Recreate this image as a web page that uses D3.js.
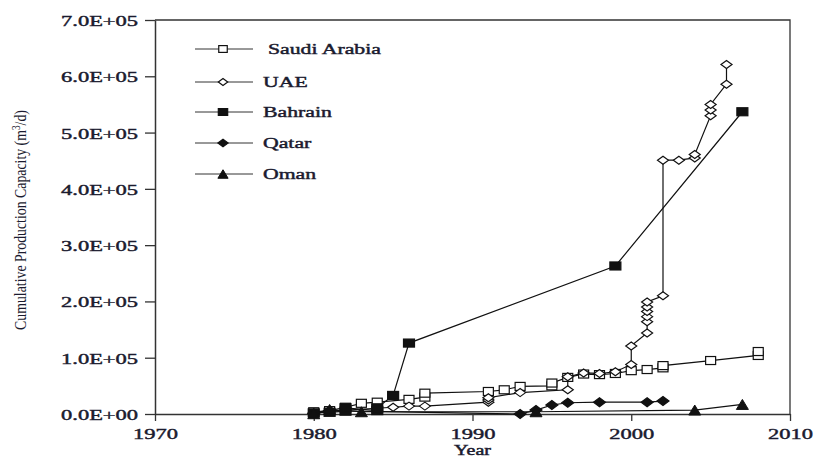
<!DOCTYPE html>
<html>
<head>
<meta charset="utf-8">
<script src="https://cdn.jsdelivr.net/npm/d3@7"></script>
<style>
  html, body { margin: 0; padding: 0; background: #fff; }
  svg { display: block; }
  text { font-family: "Liberation Serif", "Times New Roman", serif; fill: #1b1b2f; }
</style>
</head>
<body>
<svg id="chart" width="814" height="458"></svg>
<script>
// Cumulative desalination production capacity (m3/d) by year of commissioning
const saudiArabia = [
  [1980, 4000], [1981, 6000], [1982, 12000], [1983, 19000], [1984, 21000],
  [1986, 26000], [1987, 30000], [1987, 37000], [1991, 40000], [1992, 43000],
  [1993, 49000], [1995, 50000], [1995, 55000], [1996, 65000], [1997, 71000],
  [1998, 70000], [1999, 72000], [2000, 77000], [2001, 79000], [2002, 82000],
  [2002, 86000], [2005, 95000], [2008, 104000], [2008, 111000]
];
const uae = [
  [1980, 2000], [1981, 5000], [1985, 12000], [1986, 14000], [1987, 14000],
  [1991, 21000], [1991, 25000], [1991, 29000], [1993, 38000], [1996, 43000],
  [1996, 66000], [1997, 73000], [1998, 72000], [1999, 75000], [2000, 88000],
  [2000, 121000], [2001, 144000], [2001, 164000], [2001, 173000], [2001, 182000],
  [2001, 190000], [2001, 199000], [2002, 210000], [2002, 451000], [2003, 451000],
  [2004, 455000], [2004, 461000], [2005, 530000], [2005, 540000], [2005, 550000],
  [2006, 586000], [2006, 621000]
];
const bahrain = [
  [1980, 2000], [1981, 3000], [1982, 5000], [1982, 11000], [1984, 6000],
  [1984, 11000], [1985, 33000], [1986, 126000], [1999, 263000], [2007, 537000]
];
const qatar = [
  [1980, 1000], [1981, 6000], [1993, 0], [1994, 7000], [1995, 16000],
  [1996, 20000], [1998, 21000], [2001, 21000], [2002, 23000]
];
const oman = [
  [1980, 500], [1981, 8000], [1983, 4000], [1994, 4000], [2004, 7000], [2007, 17000]
];

const seriesNames = ["Saudi Arabia", "UAE", "Bahrain", "Qatar", "Oman"];
const seriesData = [saudiArabia, uae, bahrain, qatar, oman];
const seriesMarkers = ["openSquare", "openDiamond", "filledSquare", "filledDiamond", "filledTriangle"];

const xTicks = [1970, 1980, 1990, 2000, 2010];
const yTicks = [0, 100000, 200000, 300000, 400000, 500000, 600000, 700000];
const yTickLabels = ["0.0E+00", "1.0E+05", "2.0E+05", "3.0E+05", "4.0E+05", "5.0E+05", "6.0E+05", "7.0E+05"];

const svg = d3.select("#chart");
const plotLeft = 155, plotRight = 790, plotTop = 20, plotBottom = 414;
const stretch = 1.45; // horizontal stretch of the typeface
const ink = "#1b1b2f";

const x = d3.scaleLinear().domain([1970, 2010]).range([plotLeft, plotRight]);
const y = d3.scaleLinear().domain([0, 700000]).range([plotBottom, plotTop]);

function heavyText(sel, size) {
  sel.style("font-family", "Liberation Serif, serif")
    .style("font-size", size + "px").style("font-weight", "normal")
    .style("fill", ink).style("stroke", ink).style("stroke-width", 0.45);
}

// frame: top and right edges
svg.append("path")
  .attr("d", `M${plotLeft},${plotTop}H${plotRight}V${plotBottom}`)
  .attr("fill", "none").attr("stroke", "#333").attr("stroke-width", 1.3);

// x axis
const gx = svg.append("g").attr("transform", `translate(0,${plotBottom})`)
  .call(d3.axisBottom(x).tickValues(xTicks).tickFormat(d3.format("d")).tickSize(7).tickSizeOuter(0));
gx.select(".domain").attr("stroke", "#333").attr("stroke-width", 1.5);
gx.selectAll(".tick line").attr("stroke", "#333").attr("stroke-width", 1.3);
gx.selectAll(".tick text")
  .attr("y", 25.5).attr("dy", 0).attr("x", 0)
  .attr("transform", `scale(${stretch},1)`)
  .call(heavyText, 15.5);

// y axis
const gy = svg.append("g").attr("transform", `translate(${plotLeft},0)`)
  .call(d3.axisLeft(y).tickValues(yTicks).tickFormat((d, i) => yTickLabels[i]).tickSize(10).tickSizeOuter(0));
gy.select(".domain").attr("stroke", "#333").attr("stroke-width", 1.5);
gy.selectAll(".tick line").attr("stroke", "#333").attr("stroke-width", 1.3);
gy.selectAll(".tick text")
  .attr("x", -17 / stretch).attr("dy", "0.35em")
  .attr("transform", `scale(${stretch},1)`)
  .call(heavyText, 15.5);

// axis titles
svg.append("text")
  .attr("transform", `translate(${x(1990)},454.8) scale(${stretch},1)`)
  .attr("text-anchor", "middle")
  .call(heavyText, 13.8)
  .text("Year");

const yTitle = svg.append("text")
  .attr("text-anchor", "middle")
  .style("font-size", "12px").style("fill", ink);
yTitle.append("tspan").text("Cumulative Production Capacity (m");
yTitle.append("tspan").attr("baseline-shift", "super").style("font-size", "8px").text("3");
yTitle.append("tspan").text("/d)");
const titleLen = yTitle.node().getComputedTextLength() || 190;
yTitle.attr("transform", `translate(26,220) rotate(-90) scale(${220 / titleLen},${stretch})`);

// marker drawing
function drawMarker(g, type, cx, cy, scale) {
  const s = scale || 1;
  if (type === "openSquare" || type === "filledSquare") {
    const w = (type === "filledSquare" ? 11 : 10) * s, h = 8 * s;
    g.append("rect").attr("x", cx - w / 2).attr("y", cy - h / 2).attr("width", w).attr("height", h)
      .attr("fill", type === "filledSquare" ? "#111" : "#fff")
      .attr("stroke", "#111").attr("stroke-width", 1.2);
  } else if (type === "openDiamond" || type === "filledDiamond") {
    const w = (type === "filledDiamond" ? 12 : 11) * s / 2, h = (type === "filledDiamond" ? 9 : 8) * s / 2;
    g.append("path").attr("d", `M${cx - w},${cy}L${cx},${cy - h}L${cx + w},${cy}L${cx},${cy + h}Z`)
      .attr("fill", type === "filledDiamond" ? "#111" : "#fff")
      .attr("stroke", "#111").attr("stroke-width", 1.2);
  } else {
    const w = 12 * s / 2, h = 10 * s;
    g.append("path").attr("d", `M${cx - w},${cy + h / 2}L${cx},${cy - h / 2}L${cx + w},${cy + h / 2}Z`)
      .attr("fill", "#111").attr("stroke", "#111").attr("stroke-width", 1);
  }
}

const line = d3.line().x(d => x(d[0])).y(d => y(d[1]));

seriesData.forEach((data, i) => {
  const g = svg.append("g");
  g.append("path").datum(data).attr("d", line)
    .attr("fill", "none").attr("stroke", "#111").attr("stroke-width", 1.2);
  data.forEach(d => drawMarker(g, seriesMarkers[i], x(d[0]), y(d[1])));
});

// legend
const legendY = [49, 82, 112, 143, 174];
const legend = svg.append("g");
seriesNames.forEach((name, i) => {
  const ly = legendY[i];
  legend.append("line").attr("x1", 195).attr("x2", 253).attr("y1", ly).attr("y2", ly)
    .attr("stroke", "#333").attr("stroke-width", 1);
  drawMarker(legend, seriesMarkers[i], 223, ly, 0.85);
  legend.append("text")
    .attr("transform", `translate(${i === 0 ? 268 : 263},${ly + 5}) scale(${stretch},1)`)
    .call(heavyText, 15)
    .text(name);
});
</script>
</body>
</html>
